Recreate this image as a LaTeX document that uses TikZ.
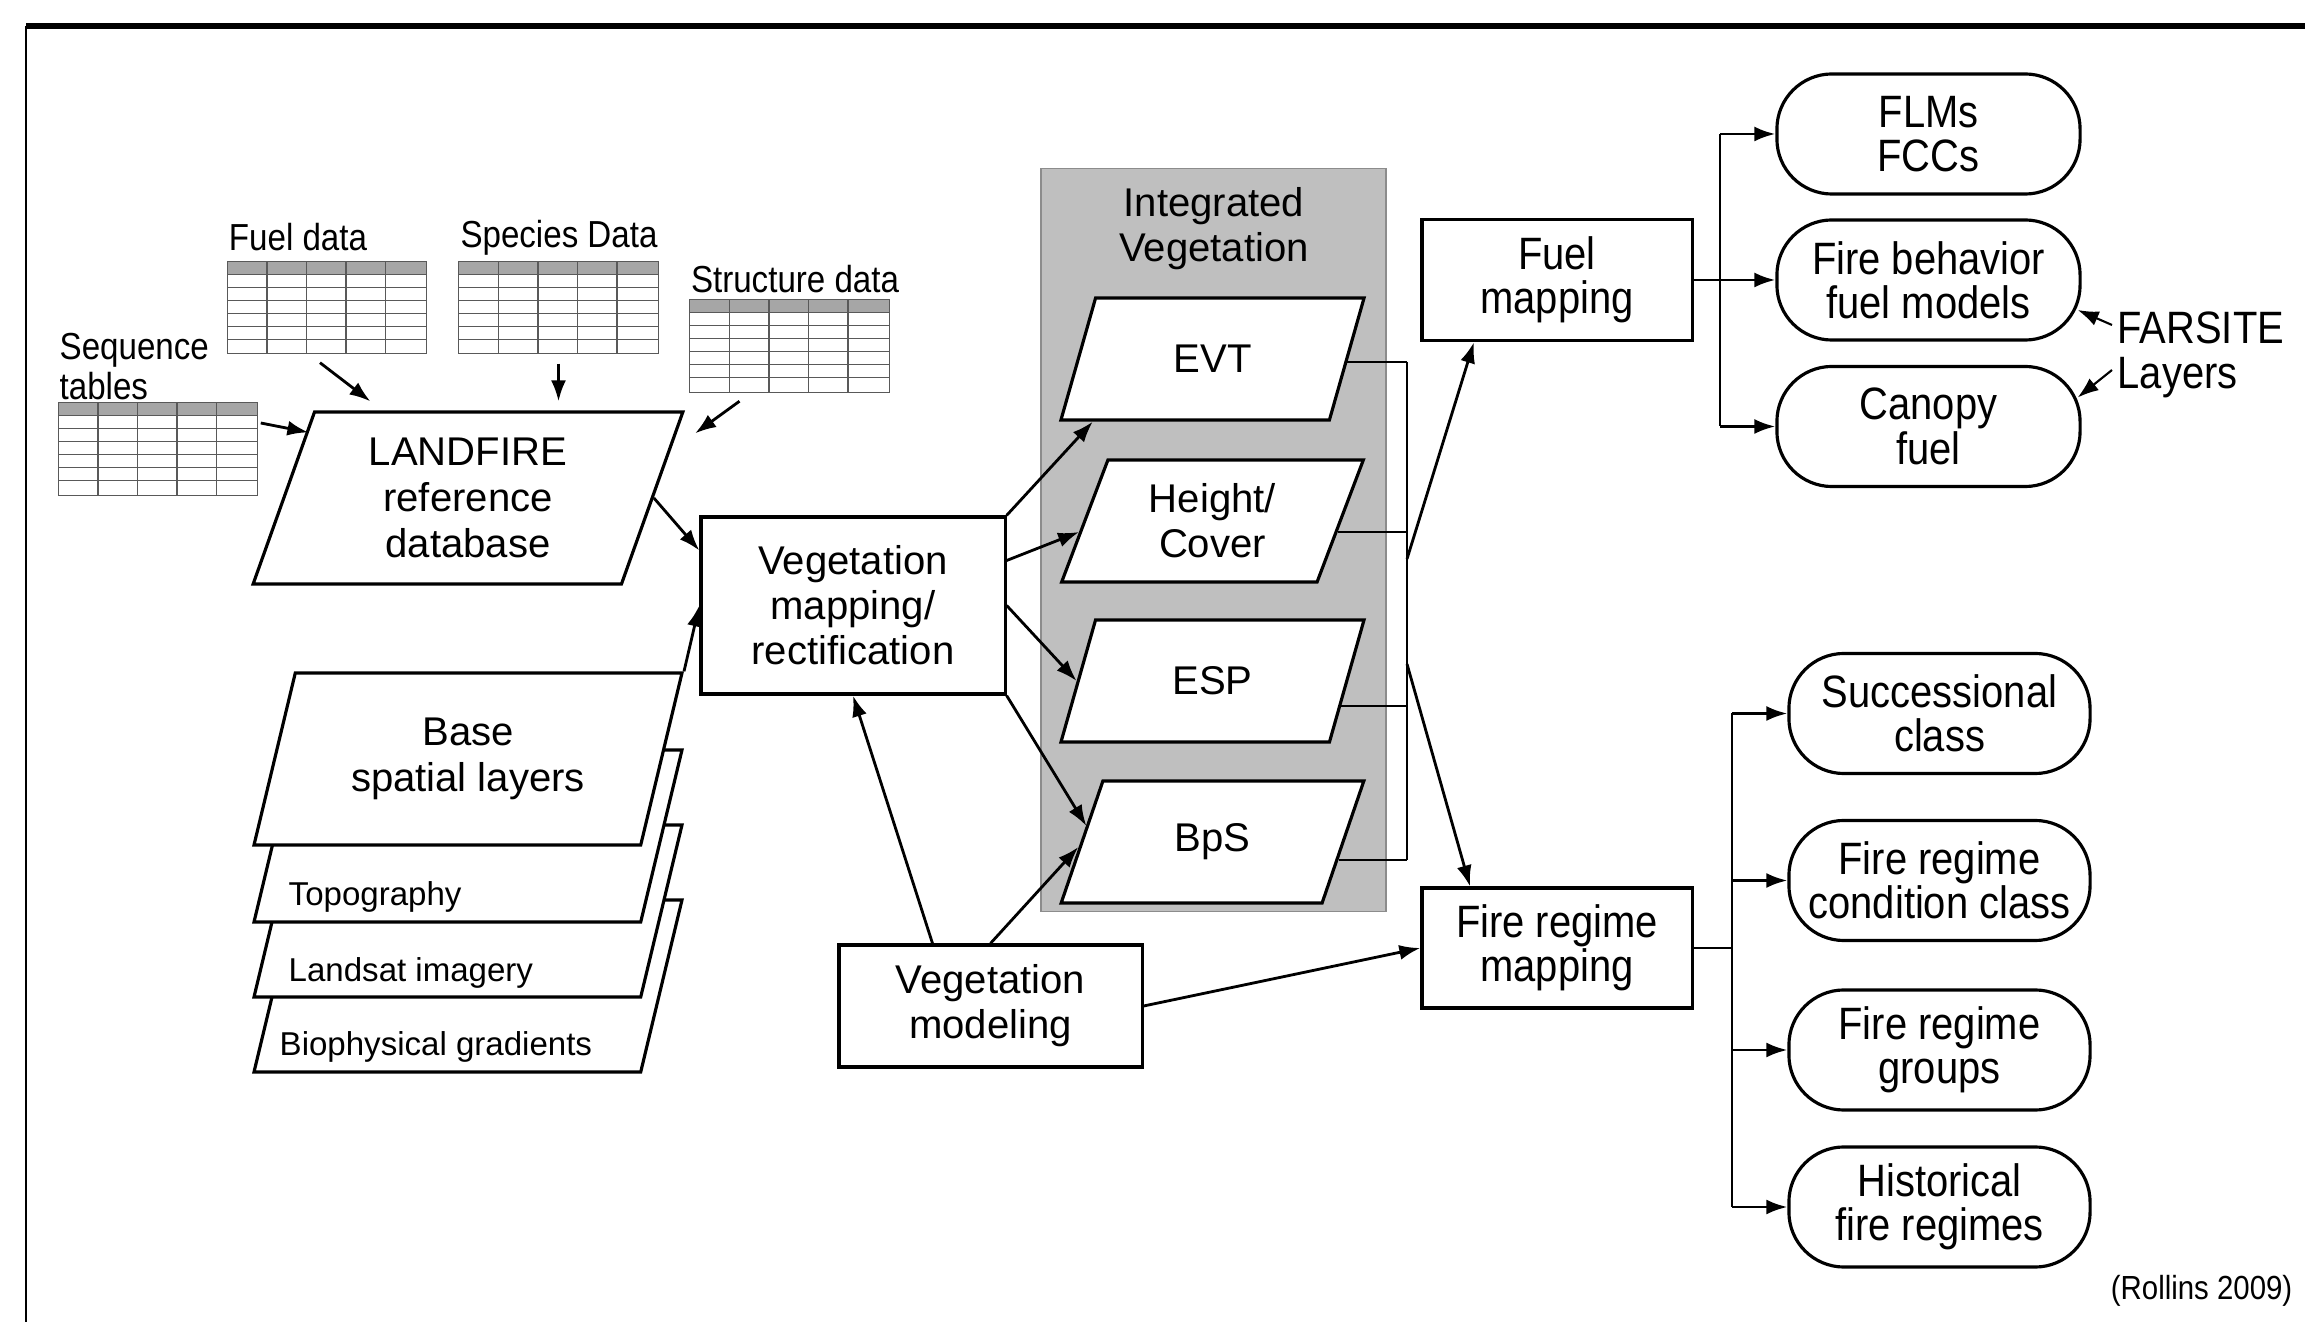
\documentclass[tikz,border=0pt]{standalone}
\usepackage{fontspec}
\setmainfont{Liberation Sans}
\newfontfamily\narrowfont[FakeStretch=0.88]{Liberation Sans}
\usetikzlibrary{shapes.geometric,arrows.meta,calc}

\newcommand{\tablegrid}[1]{%
  \fill[black!35] (#1.north west) rectangle ($(#1.north east)+(0,13)$);
  \foreach \r in {1,...,6}
    \draw[black!65, line width=0.4pt] ($(#1.north west)+(0,13*\r)$) -- ($(#1.north east)+(0,13*\r)$);
  \foreach \c in {1,...,4}
    \draw[black!65, line width=0.4pt] ($(#1.north west)+(39.6*\c,0)$) -- ($(#1.south west)+(39.6*\c,0)$);
  \draw[black!65, line width=0.4pt] (#1.north west) rectangle (#1.south east);
}

\begin{document}
\begin{tikzpicture}[x=0.01cm, y=-0.01cm,
  boxstyle/.style={rectangle, draw=black, line width=0.9pt, fill=white, align=center, inner sep=0pt, font=\fontsize{11.4}{12.8}\selectfont},
  narrowbox/.style={boxstyle, font=\narrowfont\fontsize{12.9}{12.6}\selectfont},
  parastyle/.style={trapezium, trapezium left angle=70, trapezium right angle=110, trapezium stretches=true, draw=black, line width=0.9pt, fill=white, align=center, inner sep=1pt, minimum width=3.03cm, minimum height=1.22cm, font=\fontsize{11.4}{12.8}\selectfont},
  bigpara/.style={parastyle, trapezium left angle=72, trapezium right angle=108, minimum width=4.31cm, minimum height=1.72cm, font=\fontsize{11.4}{13}\selectfont},
  ovalstyle/.style={narrowbox, rounded corners=0.55cm, minimum width=3.03cm, minimum height=1.2cm},
  tabstyle/.style={rectangle, inner sep=0pt, minimum width=1.98cm, minimum height=0.91cm},
  smalltext/.style={font=\narrowfont\fontsize{10.7}{11.4}\selectfont, inner sep=0pt},
  laytext/.style={font=\fontsize{9.4}{11}\selectfont, inner sep=0pt, anchor=west},
  arrowstyle/.style={-{Latex[length=0.21cm,width=0.15cm]}, line width=0.8pt},
  linestyle/.style={line width=0.8pt}]

\useasboundingbox (0,0) rectangle (2305,1322);
\draw[line width=1.6pt] (26,26) -- (2305,26);
\draw[line width=0.6pt] (26,26) -- (26,1322);

\node (seqtab) at (158,449) [tabstyle] {};
\node (fueltab) at (327,307.5) [tabstyle] {};
\node (spectab) at (558.5,307.5) [tabstyle] {};
\node (structab) at (789.5,346) [tabstyle] {};
\tablegrid{seqtab}
\tablegrid{fueltab}
\tablegrid{spectab}
\tablegrid{structab}

\node (seqlab) at (59,367) [smalltext, anchor=west, align=left] {Sequence\\tables};
\node (fuellab) at (298,237) [smalltext] {Fuel data};
\node (speclab) at (559,238) [smalltext] {Species Data};
\node (struclab) at (795,279) [smalltext] {Structure data};

\node (lf) at (468,498) [bigpara] {LANDFIRE\\reference\\database};

\node (bio) at (468,986) [bigpara] {\phantom{Base}\\\phantom{spatial layers}};
\node (landsat) at (468,911) [bigpara] {\phantom{Base}\\\phantom{spatial layers}};
\node (topo) at (468,836) [bigpara] {\phantom{Base}\\\phantom{spatial layers}};
\node (base) at (468,759) [bigpara] {Base\\spatial layers};
\node (topolab) at (288,897) [laytext] {Topography};
\node (landlab) at (288,973) [laytext] {Landsat imagery};
\node (biolab) at (279,1047) [laytext] {Biophysical gradients};

\node (vmap) at (853,605.5) [boxstyle, minimum width=3.04cm, minimum height=1.77cm] {Vegetation\\mapping/\\rectification};
\node (vmod) at (990.5,1006) [boxstyle, minimum width=3.03cm, minimum height=1.22cm] {Vegetation\\modeling};

\node (ivbox) at (1213.5,540) [rectangle, draw=black!45, fill=black!25, minimum width=3.45cm, minimum height=7.42cm] {};
\node (ivlab) at (1214,229) [align=center, font=\fontsize{11.4}{12.8}\selectfont] {Integrated\\Vegetation};
\node (evt) at (1212.5,359) [parastyle] {EVT};
\node (hc) at (1212.5,521) [parastyle] {Height/\\Cover};
\node (esp) at (1212.5,681) [parastyle] {ESP};
\node (bps) at (1212.5,842) [parastyle] {BpS};

\node (fm) at (1557,280) [narrowbox, minimum width=2.7cm, minimum height=1.21cm] {Fuel\\mapping};
\node (frm) at (1557,948) [narrowbox, minimum width=2.7cm, minimum height=1.2cm] {Fire regime\\mapping};

\node (flm) at (1928.5,134) [ovalstyle] {FLMs\\FCCs};
\node (fbm) at (1928.5,280) [ovalstyle] {Fire behavior\\fuel models};
\node (cf) at (1928.5,426.5) [ovalstyle] {Canopy\\fuel};
\node (farsite) at (2117,355) [smalltext, font=\narrowfont\fontsize{12.9}{13}\selectfont, anchor=west, align=left] {FARSITE\\Layers};

\node (sc) at (1939.5,713.5) [ovalstyle, minimum width=3.01cm] {Successional\\class};
\node (frcc) at (1939.5,880.5) [ovalstyle, minimum width=3.01cm] {Fire regime\\condition class};
\node (frg) at (1939.5,1050) [ovalstyle, minimum width=3.01cm] {Fire regime\\groups};
\node (hfr) at (1939.5,1207) [ovalstyle, minimum width=3.01cm] {Historical\\fire regimes};

\node (rollins) at (2293,1291) [smalltext, font=\narrowfont\fontsize{9.5}{11}\selectfont, anchor=east] {(Rollins 2009)};

\coordinate (colA) at (1407,600);
\coordinate (fuelup) at (1407,559);
\coordinate (firedown) at (1407,664);
\coordinate (fbr) at (1720,280);
\coordinate (rbr) at (1732,948);
\coordinate (evtout) at ([shift={(-1,3)}]evt.east);
\coordinate (hcout) at ([shift={(-4,11)}]hc.east);
\coordinate (espout) at ([shift={(-9,25)}]esp.east);
\coordinate (bpsout) at ([shift={(-6,18)}]bps.east);

\draw[arrowstyle] ([shift={(3,-26)}]seqtab.east) -- ([shift={(-5,22)}]lf.top left corner);
\draw[arrowstyle] ([shift={(-7,9)}]fueltab.south) -- ([shift={(57,-9)}]lf.top left corner);
\draw[arrowstyle] ([shift={(0,10)}]spectab.south) -- ([shift={(0,-9)}]spectab.south |- lf.north);
\draw[arrowstyle] ([shift={(-50,9)}]structab.south) -- ([shift={(10,23)}]lf.top right corner);

\draw[arrowstyle] (lf.east) -- ([shift={(0,-55)}]vmap.west);
\draw[arrowstyle] (base.top right corner) -- (vmap.west);

\draw[arrowstyle] (vmap.north east) -- ([shift={(34,0)}]evt.bottom left corner);
\draw[arrowstyle] ([shift={(0,-45)}]vmap.east) -- ([shift={(-4,11)}]hc.west);
\draw[arrowstyle] (vmap.east) -- (esp.west);
\draw[arrowstyle] (vmap.south east) -- ([shift={(6,-16)}]bps.west);

\draw[arrowstyle] ([shift={(-58,0)}]vmod.north) -- (vmap.south);
\draw[arrowstyle] (vmod.north) -- ([shift={(-2,5)}]bps.west);
\draw[arrowstyle] (vmod.east) -- (frm.west);

\draw[linestyle] (evtout) -- (evtout -| colA);
\draw[linestyle] (hcout) -- (hcout -| colA);
\draw[linestyle] (espout) -- (espout -| colA);
\draw[linestyle] (bpsout) -- (bpsout -| colA);
\draw[linestyle] (evtout -| colA) -- (bpsout -| colA);
\draw[arrowstyle] (fuelup) -- ([shift={(-83,0)}]fm.south);
\draw[arrowstyle] (firedown) -- ([shift={(-87,0)}]frm.north);

\draw[linestyle] (fm.east) -- (fbr);
\draw[linestyle] (fbr |- flm.west) -- (fbr |- cf.west);
\foreach \n in {flm,fbm,cf}
  \draw[arrowstyle] (fbr |- \n.west) -- (\n.west);

\draw[linestyle] (frm.east) -- (rbr);
\draw[linestyle] (rbr |- sc.west) -- (rbr |- hfr.west);
\foreach \n in {sc,frcc,frg,hfr}
  \draw[arrowstyle] (rbr |- \n.west) -- (\n.west);

\draw[arrowstyle, line width=0.6pt] ([shift={(-5,-30)}]farsite.west) -- ([shift={(-4,30)}]fbm.east);
\draw[arrowstyle, line width=0.6pt] ([shift={(-5,15)}]farsite.west) -- ([shift={(-4,-29)}]cf.east);
\end{tikzpicture}
\end{document}
